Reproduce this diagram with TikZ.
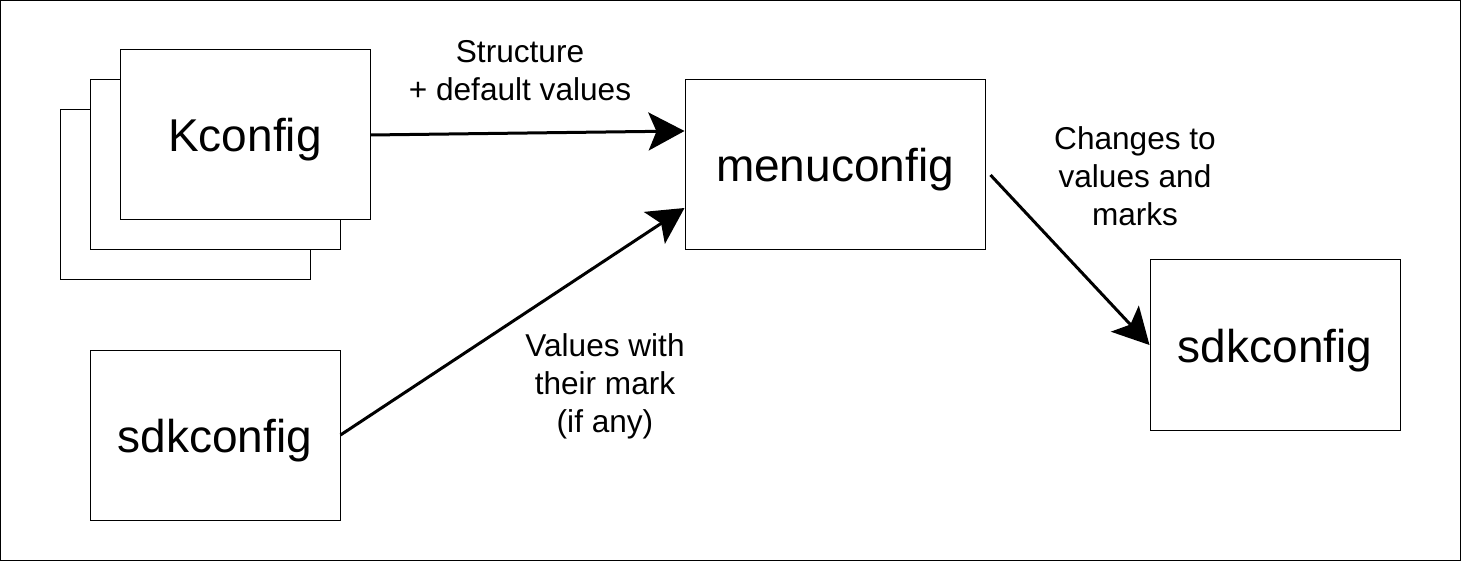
\documentclass[tikz,border=0pt]{standalone}
\usepackage{fontspec}
\setmainfont{Liberation Sans}
\usetikzlibrary{arrows.meta}

\begin{document}
\begin{tikzpicture}[x=0.5pt, y=-0.5pt,
    box/.style={draw, line width=0.5pt, inner sep=0pt, minimum width=125pt, minimum height=85pt, text height=22pt, text depth=5pt, font=\fontsize{23}{27}\selectfont},
    flow/.style={line width=1.5pt, -{Stealth[length=18pt, width=19pt, inset=4pt]}},
    note/.style={align=center, font=\fontsize{15.8}{19}\selectfont}]
    \useasboundingbox (0, 0) rectangle (1461, 561);
    \draw[line width=0.5pt] (0.5, 0.5) rectangle (1460.5, 560.5);

    % stack of Kconfig files
    \node[box, fill=white] (k1) at (185, 195) {};
    \node[box, fill=white] (k2) at (215, 165) {};
    \node[box, fill=white] (kconfig) at (245, 135) {Kconfig};

    \node[box] (sdkin) at (215, 435) {sdkconfig};
    \node[box, minimum width=150pt] (menu) at (835, 165) {menuconfig};
    \node[box] (sdkout) at (1275, 345) {sdkconfig};

    \draw[flow] (kconfig.east) -- ([yshift=17pt]menu.west);
    \draw[flow] (sdkin.east) -- ([yshift=-21.5pt]menu.west);
    \draw[flow] ([xshift=2.5pt, yshift=-5pt]menu.east) -- (sdkout.west);

    \node[note] (lstruct) at (520, 71) {Structure\\+ default values};
    \node[note] (lvalues) at (605, 386) {Values with\\their mark\\ (if any)};
    \node[note] (lchanges) at (1135, 176) {Changes to\\values and\\marks};
\end{tikzpicture}
\end{document}
